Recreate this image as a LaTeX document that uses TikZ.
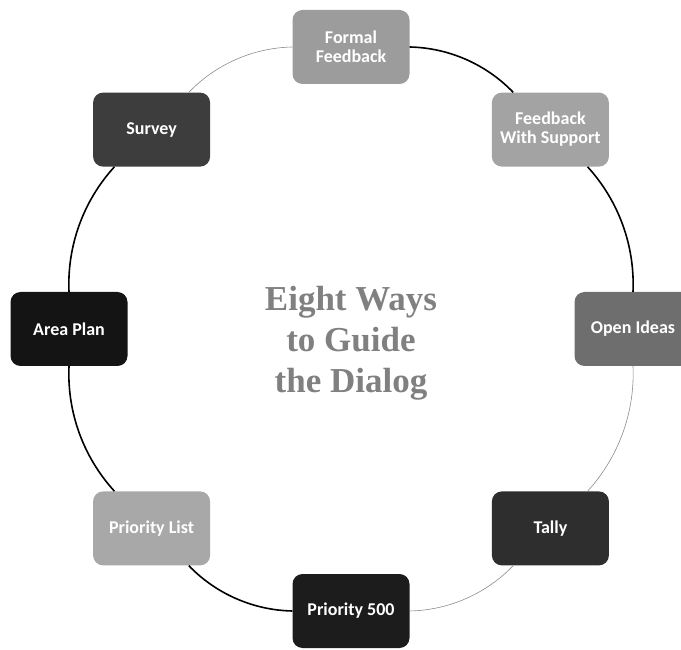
\documentclass[tikz,border=0pt]{standalone}
\usepackage{fontspec}
\usetikzlibrary{calc}
\setmainfont{Carlito}
\newfontfamily\titlefont{Liberation Serif}
\begin{document}
\begin{tikzpicture}[x=1pt,y=1pt,
  waybox/.style={rounded corners=10pt, minimum width=117pt, minimum height=74pt,
    inner sep=2pt, align=center, text=white, font=\fontsize{18}{19}\selectfont\bfseries},
  strong/.style={draw=black, line width=1.6pt},
  faint/.style={draw=black!45, line width=0.6pt},
  ring/.style={bend left=22.5, looseness=0.885}]
\useasboundingbox (0,0) rectangle (681,649);
\clip (0,0) rectangle (681,649);
\coordinate (c) at (351,320);

% the eight boxes around the ring
\node[waybox, fill=black!39] (ff)    at ($(c)+(90:282)$)   {Formal\\Feedback};
\node[waybox, fill=black!36] (fws)   at ($(c)+(45:282)$)   {Feedback\\With Support};
\node[waybox, fill=black!57] (oi)    at ($(c)+(0:282)$)    {Open Ideas};
\node[waybox, fill=black!82] (tally) at ($(c)+(-45:282)$)  {Tally};
\node[waybox, fill=black!89] (p500)  at ($(c)+(-90:282)$)  {Priority 500};
\node[waybox, fill=black!34] (pl)    at ($(c)+(-135:282)$) {Priority List};
\node[waybox, fill=black!92] (ap)    at ($(c)+(180:282)$)  {Area Plan};
\node[waybox, fill=black!76] (sv)    at ($(c)+(135:282)$)  {Survey};

% ring segments, clockwise
\draw[strong, ring] (ff) to (fws);
\draw[strong, ring] (fws) to (oi);
\draw[faint, ring] (oi) to (tally);
\draw[faint, ring] (tally) to (p500);
\draw[strong, ring] (p500) to (pl);
\draw[strong, ring] (pl) to (ap);
\draw[strong, ring] (ap) to (sv);
\draw[faint, ring] (sv) to (ff);

% centre title
\node[align=center, text=black!50, font=\titlefont\fontsize{35}{41}\selectfont\bfseries]
  (title) at (351,306) {Eight Ways\\to Guide\\the Dialog};
\end{tikzpicture}
\end{document}
